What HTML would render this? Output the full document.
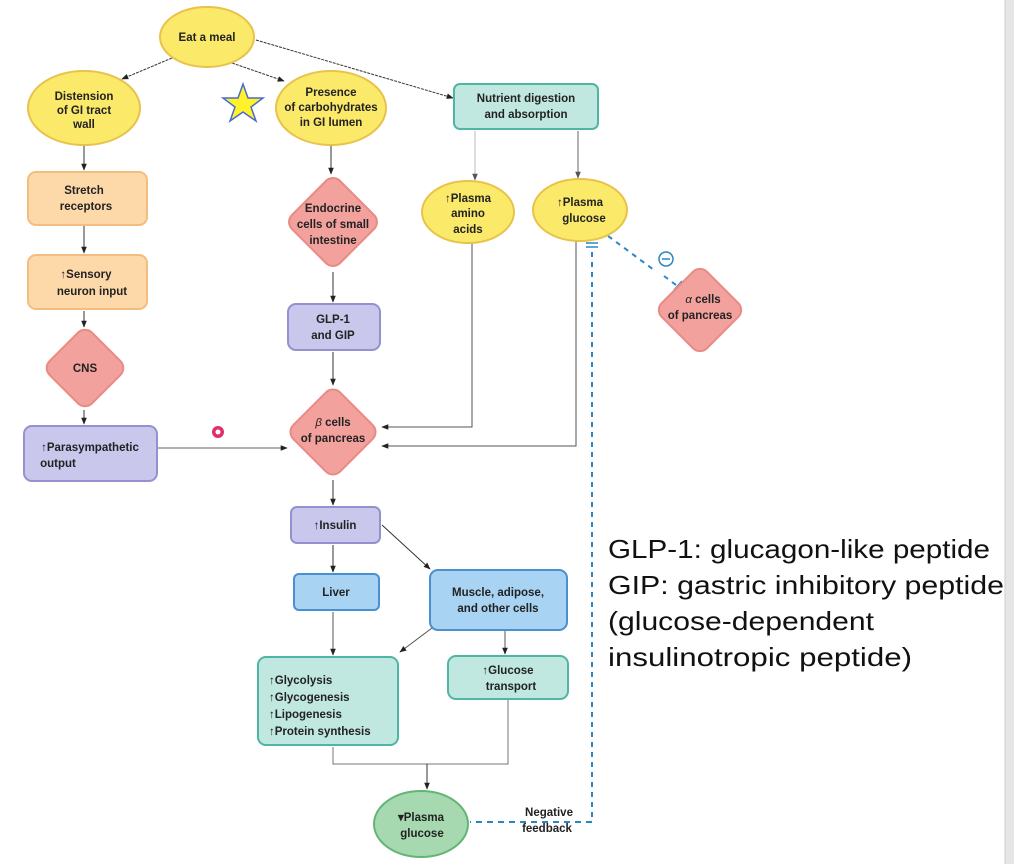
<!DOCTYPE html>
<html><head><meta charset="utf-8"><style>
html,body{margin:0;padding:0;background:#fff;width:1014px;height:864px;overflow:hidden}
svg text{font-family:"Liberation Sans",Arial,sans-serif;font-weight:bold;font-size:11.5px;fill:#222}
svg text.lg{font-family:"Liberation Sans",Arial,sans-serif;font-weight:normal;font-size:26px;fill:#111}
</style></head><body>
<svg width="1014" height="864" viewBox="0 0 1014 864" xmlns="http://www.w3.org/2000/svg">
<defs>
<marker id="a" viewBox="0 0 10 10" refX="9" refY="5" markerWidth="7" markerHeight="7" orient="auto"><path d="M0,1 L10,5 L0,9 z" fill="#222"/></marker>
<marker id="g" viewBox="0 0 10 10" refX="9" refY="5" markerWidth="7" markerHeight="7" orient="auto"><path d="M0,1 L10,5 L0,9 z" fill="#555"/></marker>
</defs>
<rect x="1005" y="0" width="9" height="864" fill="#e6e6e6"/>
<line x1="1005" y1="0" x2="1005" y2="864" stroke="#ccc"/>

<g stroke="#333" stroke-width="1" fill="none">
<line x1="172" y1="58" x2="122" y2="79" stroke-dasharray="3,1" marker-end="url(#a)"/>
<line x1="232" y1="63" x2="284" y2="81" stroke-dasharray="3,1" marker-end="url(#a)"/>
<line x1="256" y1="40" x2="453" y2="98" stroke-dasharray="3,1" marker-end="url(#a)"/>
<line x1="84" y1="145" x2="84" y2="170" marker-end="url(#a)"/>
<line x1="84" y1="226" x2="84" y2="253" marker-end="url(#a)"/>
<line x1="84" y1="311" x2="84" y2="327" marker-end="url(#a)"/>
<line x1="84" y1="410" x2="84" y2="424" marker-end="url(#a)"/>
<line x1="331" y1="145" x2="331" y2="174" marker-end="url(#a)"/>
<line x1="333" y1="272" x2="333" y2="302" marker-end="url(#a)"/>
<line x1="333" y1="352" x2="333" y2="385" marker-end="url(#a)"/>
<line x1="157" y1="448" x2="287" y2="448" stroke="#666" marker-end="url(#a)"/>
<polyline points="472,243 472,427 382,427" stroke="#555" marker-end="url(#a)"/>
<polyline points="576,241 576,446 382,446" stroke="#555" marker-end="url(#a)"/>
<line x1="475" y1="131" x2="475" y2="180" stroke="#bbb" marker-end="url(#g)"/>
<line x1="578" y1="131" x2="578" y2="178" stroke="#666" marker-end="url(#g)"/>
<line x1="333" y1="480" x2="333" y2="505" marker-end="url(#a)"/>
<line x1="333" y1="545" x2="333" y2="572" marker-end="url(#a)"/>
<line x1="382" y1="525" x2="430" y2="569" marker-end="url(#a)"/>
<line x1="333" y1="612" x2="333" y2="655" stroke="#555" marker-end="url(#a)"/>
<line x1="432" y1="628" x2="400" y2="652" stroke="#555" marker-end="url(#a)"/>
<line x1="505" y1="631" x2="505" y2="654" stroke="#555" marker-end="url(#a)"/>
<polyline points="333,747 333,764 508,764 508,700" stroke="#777"/>
<line x1="427" y1="764" x2="427" y2="789" marker-end="url(#a)"/>
</g>

<g stroke="#2a86c4" stroke-width="2" fill="none">
<line x1="592" y1="252" x2="592" y2="822" stroke-dasharray="5,5"/>
<line x1="592" y1="822" x2="470" y2="822" stroke-dasharray="6,5"/>
<line x1="586" y1="243" x2="598" y2="243" stroke-width="1.5"/>
<line x1="586" y1="247" x2="598" y2="247" stroke-width="1.5"/>
<line x1="600" y1="230" x2="654" y2="270" stroke-dasharray="5,5"/>
<line x1="664" y1="276" x2="680" y2="288" stroke-dasharray="5,5"/>
<line x1="674" y1="290" x2="682" y2="281" stroke-width="1.5"/>
<line x1="677" y1="293" x2="685" y2="284" stroke-width="1.5"/>
<circle cx="666" cy="259" r="7" stroke-width="1.5"/>
<line x1="662" y1="259" x2="670" y2="259" stroke-width="1.5"/>
</g>

<g stroke="#e8c24a" stroke-width="2" fill="#fbe96a">
<ellipse cx="207" cy="37" rx="47" ry="30"/>
<ellipse cx="84" cy="108" rx="56" ry="37"/>
<ellipse cx="331" cy="108" rx="55" ry="37"/>
<ellipse cx="468" cy="212" rx="46" ry="31"/>
<ellipse cx="580" cy="210" rx="47" ry="31"/>
</g>
<polygon points="243,84 248,98 263,98 251,107 256,121 243,112 230,121 235,107 223,98 238,98" fill="#fff22a" stroke="#4a6bd0" stroke-width="1.5"/>

<g stroke="#f2bd7e" stroke-width="2" fill="#fdd9a9">
<rect x="28" y="172" width="119" height="53" rx="8"/>
<rect x="28" y="255" width="119" height="54" rx="8"/>
</g>
<g stroke="#e98a86" stroke-width="2" fill="#f2a19d">
<rect x="55" y="338" width="60" height="60" rx="10" transform="rotate(45 85 368)"/>
<rect x="299" y="188" width="68" height="68" rx="10" transform="rotate(45 333 222)"/>
<rect x="300" y="399" width="66" height="66" rx="10" transform="rotate(45 333 432)"/>
<rect x="668" y="278" width="64" height="64" rx="10" transform="rotate(45 700 310)"/>
</g>
<g stroke="#9590d0" stroke-width="2" fill="#c9c7ec">
<rect x="24" y="426" width="133" height="55" rx="8"/>
<rect x="288" y="304" width="92" height="46" rx="8"/>
<rect x="291" y="507" width="89" height="36" rx="6"/>
</g>
<g stroke="#4fb5a5" stroke-width="2" fill="#c0e8e0">
<rect x="454" y="84" width="144" height="45" rx="6"/>
<rect x="258" y="657" width="140" height="88" rx="8"/>
<rect x="448" y="656" width="120" height="43" rx="8"/>
</g>
<g stroke="#4a8fcf" stroke-width="2" fill="#a8d3f3">
<rect x="294" y="574" width="85" height="36" rx="5"/>
<rect x="430" y="570" width="137" height="60" rx="8"/>
</g>
<ellipse cx="421" cy="824" rx="47" ry="33" fill="#a6d9b0" stroke="#64b478" stroke-width="2"/>
<circle cx="218" cy="432" r="6" fill="#e0306a"/>
<circle cx="218" cy="432" r="2.5" fill="#fff"/>

<g text-anchor="middle">
<text x="207" y="41">Eat a meal</text>
<text x="84" y="100">Distension</text><text x="84" y="114">of GI tract</text><text x="84" y="128">wall</text>
<text x="331" y="96" font-size="10.5">Presence</text><text x="331" y="111" font-size="10.5">of carbohydrates</text><text x="331" y="126" font-size="10.5">in GI lumen</text>
<text x="526" y="102">Nutrient digestion</text><text x="526" y="118">and absorption</text>
<text x="84" y="194">Stretch</text><text x="86" y="210">receptors</text>
<text x="86" y="278">↑Sensory</text><text x="92" y="295">neuron input</text>
<text x="85" y="372">CNS</text>
<text x="333" y="212">Endocrine</text><text x="333" y="228">cells of small</text><text x="333" y="244">intestine</text>
<text x="333" y="323">GLP-1</text><text x="333" y="339">and GIP</text>
<text x="90" y="451">↑Parasympathetic</text><text x="58" y="467">output</text>
<text x="333" y="426"><tspan font-style="italic" font-weight="normal">β</tspan> cells</text><text x="333" y="442">of pancreas</text>
<text x="468" y="202">↑Plasma</text><text x="468" y="217">amino</text><text x="468" y="233">acids</text>
<text x="580" y="206">↑Plasma</text><text x="584" y="222">glucose</text>
<text x="703" y="303"><tspan font-style="italic" font-weight="normal">α</tspan> cells</text><text x="700" y="319">of pancreas</text>
<text x="335" y="529">↑Insulin</text>
<text x="336" y="596">Liver</text>
<text x="498" y="596">Muscle, adipose,</text><text x="498" y="612">and other cells</text>
<text x="508" y="674">↑Glucose</text><text x="511" y="690">transport</text>
<text x="421" y="821">▾Plasma</text><text x="422" y="837">glucose</text>
<text x="549" y="816">Negative</text><text x="547" y="832">feedback</text>
</g>
<g text-anchor="start">
<text x="269" y="684">↑Glycolysis</text>
<text x="269" y="701">↑Glycogenesis</text>
<text x="269" y="718">↑Lipogenesis</text>
<text x="269" y="735">↑Protein synthesis</text>
</g>
<text class="lg" x="608" y="558" textLength="382" lengthAdjust="spacingAndGlyphs">GLP-1: glucagon-like peptide</text>
<text class="lg" x="608" y="594" textLength="396" lengthAdjust="spacingAndGlyphs">GIP: gastric inhibitory peptide</text>
<text class="lg" x="608" y="630" textLength="266" lengthAdjust="spacingAndGlyphs">(glucose-dependent</text>
<text class="lg" x="608" y="666" textLength="304" lengthAdjust="spacingAndGlyphs">insulinotropic peptide)</text>
</svg>
</body></html>
